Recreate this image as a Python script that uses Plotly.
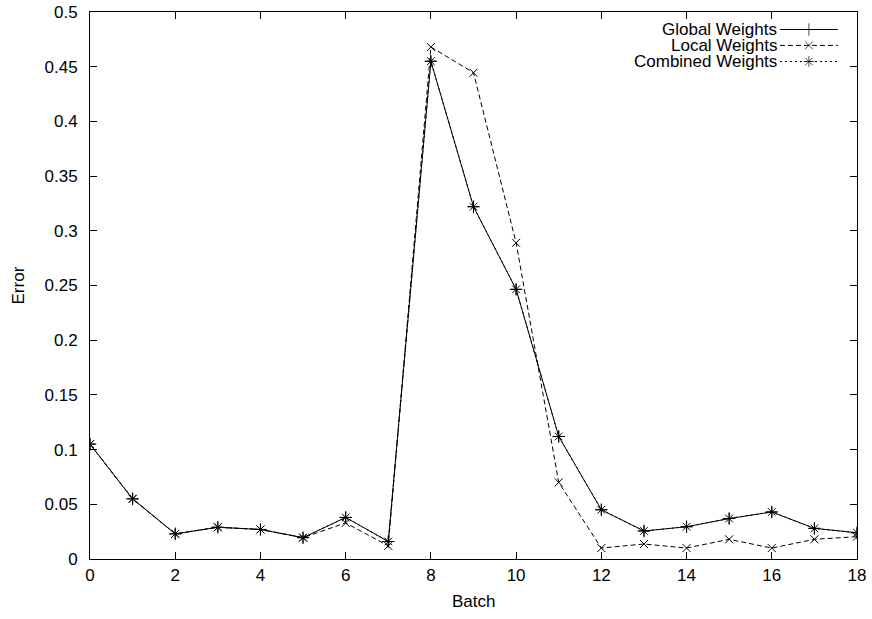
import plotly.graph_objects as go

batch = list(range(19))
global_w = [0.105, 0.055, 0.023, 0.029, 0.027, 0.0195, 0.038, 0.016, 0.455, 0.322, 0.2465,
            0.112, 0.045, 0.0256, 0.0295, 0.037, 0.043, 0.028, 0.024]
local_w = [0.105, 0.055, 0.023, 0.029, 0.027, 0.0195, 0.033, 0.012, 0.468, 0.4445, 0.289,
           0.070, 0.010, 0.0137, 0.010, 0.018, 0.010, 0.018, 0.0204]
combined_w = [0.105, 0.055, 0.023, 0.029, 0.027, 0.0195, 0.038, 0.016, 0.455, 0.322, 0.2465,
              0.112, 0.045, 0.0256, 0.0295, 0.037, 0.043, 0.028, 0.024]
series_names = ["Global Weights", "Local Weights", "Combined Weights"]
x_ticks = list(range(0, 19, 2))
y_ticks = [0, 0.05, 0.1, 0.15, 0.2, 0.25, 0.3, 0.35, 0.4, 0.45, 0.5]
y_tick_text = ["0", "0.05", "0.1", "0.15", "0.2", "0.25", "0.3", "0.35", "0.4", "0.45", "0.5"]

FONT = "Liberation Sans, Arial, Helvetica, sans-serif"
FS = 17
styles = [
    dict(dash="solid", symbol="cross-thin-open", size=9),
    dict(dash="5px,3px", symbol="x-thin-open", size=8),
    dict(dash="2px,3px", symbol="asterisk-open", size=9),
]
values = [global_w, local_w, combined_w]

fig = go.Figure()
for name, vals, st in zip(series_names, values, styles):
    fig.add_trace(go.Scatter(
        x=batch, y=vals, name=name, mode="lines+markers",
        line=dict(color="black", width=1, dash=st["dash"]),
        marker=dict(symbol=st["symbol"], size=st["size"], color="black",
                    line=dict(color="black", width=1)),
        showlegend=False,
    ))

# gnuplot-style legend: text on the left, line sample with marker on the right
leg_x0, leg_x1 = 0.8996, 0.975
leg_rows = [0.968, 0.939, 0.9095]
for name, st, yy in zip(series_names, styles, leg_rows):
    fig.add_trace(go.Scatter(
        x=[leg_x0, (leg_x0 + leg_x1) / 2, leg_x1], y=[yy, yy, yy],
        xaxis="x2", yaxis="y2", mode="lines+markers", showlegend=False, hoverinfo="skip",
        line=dict(color="black", width=1, dash=st["dash"]),
        marker=dict(symbol=st["symbol"], size=[0, st["size"], 0], color="black",
                    line=dict(color="black", width=1)),
    ))
    fig.add_annotation(x=0.8985, y=yy, xref="paper", yref="paper", text=name,
                       showarrow=False, xanchor="right", yanchor="middle",
                       font=dict(family=FONT, size=FS, color="black"))

# axis titles
fig.add_annotation(x=-0.0926, y=0.5, xref="paper", yref="paper", text="Error",
                   textangle=-90, showarrow=False, xanchor="center", yanchor="middle",
                   font=dict(family=FONT, size=FS, color="black"))
fig.add_annotation(x=0.5, y=-0.0777, xref="paper", yref="paper", text="Batch",
                   showarrow=False, xanchor="center", yanchor="middle",
                   font=dict(family=FONT, size=FS, color="black"))

axis_common = dict(
    showline=True, linecolor="black", linewidth=1, mirror="allticks",
    ticks="inside", ticklen=7, tickcolor="black", tickwidth=1,
    showgrid=False, zeroline=False, automargin=False, ticklabeloverflow="allow",
    tickfont=dict(family=FONT, size=FS, color="black"),
)

fig.update_layout(
    width=872, height=619,
    margin=dict(l=90, r=15, t=12, b=60, autoexpand=False),
    paper_bgcolor="white", plot_bgcolor="white",
    font=dict(family=FONT, size=FS, color="black"),
    xaxis=dict(range=[0, 18], tickvals=x_ticks, ticklabelstandoff=1, **axis_common),
    yaxis=dict(range=[0, 0.5], tickvals=y_ticks, ticktext=y_tick_text, ticklabelstandoff=8,
               **axis_common),
    xaxis2=dict(overlaying="x", range=[0, 1], visible=False),
    yaxis2=dict(overlaying="y", range=[0, 1], visible=False),
    showlegend=False,
)

# remove the browser's default 8px body margin so the figure fills the window exactly
fig.write_html("out.html",
               config={"displayModeBar": False, "staticPlot": True},
               post_script="document.body.style.margin='0';document.body.style.overflow='hidden';")
